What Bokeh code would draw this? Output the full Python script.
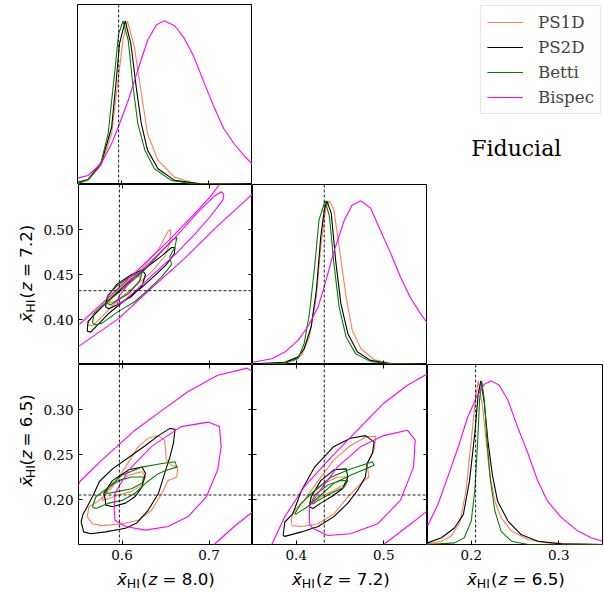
import math
from bokeh.plotting import figure
from bokeh.models import (Range1d, LinearAxis, FixedTicker, NumeralTickFormatter,
                          Span, Label, Legend, LegendItem, Spacer)
from bokeh.layouts import row, column
from bokeh.embed import file_html
from bokeh.resources import INLINE

# ------------------------------------------------------------------ data
SERIES = ["PS1D", "PS2D", "Betti", "Bispec"]
ZVALS = ["8.0", "7.2", "6.5"]
RANGES = [(0.55, 0.75), (0.35, 0.55), (0.15, 0.35)]
XTICKS = [[0.6, 0.7], [0.4, 0.5], [0.2, 0.3]]
YTICKS = [[0.6, 0.7], [0.40, 0.45, 0.50], [0.20, 0.25, 0.30]]
FIDUCIAL = [0.597, 0.432, 0.205]

# 1D marginals (x, normalised density)
D80_PS1D = [(0.550, 0.008), (0.562, 0.025), (0.577, 0.117), (0.589, 0.31), (0.596, 0.62), (0.602, 0.885),
            (0.607, 1.0), (0.615, 0.84), (0.623, 0.556), (0.630, 0.31), (0.642, 0.147), (0.661, 0.045),
            (0.683, 0.008), (0.750, 0.0)]
D80_PS2D = [(0.550, 0.014), (0.562, 0.03), (0.577, 0.127), (0.589, 0.35), (0.594, 0.62), (0.598, 0.86),
            (0.6045, 1.0), (0.611, 0.86), (0.617, 0.60), (0.623, 0.37), (0.630, 0.21), (0.642, 0.096),
            (0.661, 0.025), (0.691, 0.004), (0.750, 0.0)]
D80_BETTI = [(0.550, 0.004), (0.562, 0.03), (0.577, 0.137), (0.585, 0.31), (0.592, 0.66), (0.597, 0.92),
             (0.602, 1.0), (0.608, 0.88), (0.613, 0.62), (0.619, 0.37), (0.627, 0.21), (0.638, 0.096),
             (0.657, 0.025), (0.683, 0.004), (0.750, 0.0)]
D80_BISPEC = [(0.550, 0.039), (0.562, 0.055), (0.577, 0.127), (0.589, 0.25), (0.597, 0.356), (0.608, 0.515),
              (0.619, 0.70), (0.630, 0.88), (0.640, 0.975), (0.649, 1.0), (0.661, 0.97), (0.672, 0.894),
              (0.683, 0.78), (0.695, 0.618), (0.706, 0.474), (0.717, 0.342), (0.729, 0.249), (0.740, 0.178),
              (0.750, 0.123)]

D72_PS1D = [(0.350, 0.0), (0.387, 0.008), (0.406, 0.055), (0.415, 0.168), (0.423, 0.413), (0.428, 0.72),
            (0.434, 0.965), (0.438, 1.0), (0.443, 0.945), (0.449, 0.72), (0.457, 0.413), (0.464, 0.209),
            (0.474, 0.096), (0.489, 0.029), (0.511, 0.004), (0.550, 0.0)]
D72_PS2D = [(0.350, 0.004), (0.387, 0.014), (0.402, 0.045), (0.409, 0.096), (0.417, 0.229), (0.423, 0.454),
            (0.428, 0.78), (0.432, 0.945), (0.435, 1.0), (0.440, 0.925), (0.445, 0.638), (0.451, 0.372),
            (0.459, 0.188), (0.470, 0.076), (0.485, 0.025), (0.508, 0.004), (0.550, 0.0)]
D72_BETTI = [(0.350, 0.0), (0.387, 0.008), (0.402, 0.035), (0.409, 0.127), (0.415, 0.31), (0.421, 0.597),
             (0.426, 0.883), (0.433, 1.0), (0.438, 0.904), (0.443, 0.618), (0.449, 0.352), (0.457, 0.168),
             (0.468, 0.065), (0.485, 0.018), (0.508, 0.004), (0.550, 0.0)]
D72_BISPEC = [(0.350, 0.014), (0.372, 0.035), (0.387, 0.076), (0.402, 0.147), (0.413, 0.229), (0.425, 0.352),
              (0.432, 0.474), (0.443, 0.69), (0.455, 0.883), (0.464, 0.975), (0.474, 1.0), (0.485, 0.955),
              (0.496, 0.822), (0.508, 0.679), (0.519, 0.536), (0.530, 0.413), (0.542, 0.311), (0.550, 0.25)]

D65_PS1D = [(0.150, 0.004), (0.166, 0.02), (0.177, 0.051), (0.187, 0.133), (0.194, 0.328), (0.200, 0.635),
            (0.205, 0.90), (0.208, 1.0), (0.213, 0.84), (0.217, 0.635), (0.221, 0.43), (0.227, 0.266),
            (0.234, 0.164), (0.246, 0.082), (0.265, 0.031), (0.287, 0.01), (0.314, 0.004), (0.350, 0.0)]
D65_PS2D = [(0.150, 0.01), (0.166, 0.041), (0.181, 0.102), (0.191, 0.184), (0.198, 0.389), (0.204, 0.676),
            (0.208, 0.922), (0.211, 1.0), (0.215, 0.86), (0.219, 0.635), (0.224, 0.43), (0.230, 0.266),
            (0.242, 0.143), (0.257, 0.061), (0.276, 0.02), (0.303, 0.004), (0.350, 0.0)]
D65_BETTI = [(0.150, 0.0), (0.181, 0.01), (0.192, 0.041), (0.200, 0.143), (0.204, 0.328), (0.207, 0.594),
             (0.2095, 0.881), (0.212, 1.0), (0.215, 0.881), (0.218, 0.635), (0.222, 0.389), (0.227, 0.205),
             (0.234, 0.082), (0.246, 0.02), (0.265, 0.0), (0.350, 0.0)]
D65_BISPEC = [(0.150, 0.113), (0.162, 0.246), (0.173, 0.41), (0.185, 0.594), (0.196, 0.779), (0.206, 0.90),
              (0.215, 0.98), (0.223, 1.0), (0.232, 0.973), (0.242, 0.881), (0.253, 0.717), (0.265, 0.553),
              (0.276, 0.389), (0.287, 0.266), (0.303, 0.164), (0.322, 0.082), (0.337, 0.041), (0.350, 0.02)]

# 2D contours (x, y) -- 68% and 95% levels
C10_PS1D_95 = [(0.560, 0.394), (0.566, 0.405), (0.581, 0.420), (0.600, 0.437), (0.623, 0.457), (0.642, 0.478),
               (0.653, 0.498), (0.656, 0.500), (0.655, 0.485), (0.649, 0.470), (0.634, 0.453), (0.615, 0.437),
               (0.596, 0.422), (0.577, 0.403), (0.566, 0.393)]
C10_PS1D_68 = [(0.585, 0.418), (0.589, 0.427), (0.602, 0.440), (0.615, 0.448), (0.621, 0.448), (0.619, 0.440),
               (0.606, 0.429), (0.592, 0.420)]
C10_PS2D_95 = [(0.560, 0.387), (0.561, 0.398), (0.574, 0.411), (0.589, 0.425), (0.608, 0.442), (0.627, 0.457),
               (0.646, 0.471), (0.657, 0.480), (0.661, 0.480), (0.660, 0.473), (0.651, 0.461), (0.638, 0.449),
               (0.623, 0.436), (0.604, 0.422), (0.585, 0.407), (0.574, 0.396), (0.564, 0.386)]
C10_PS2D_68 = [(0.581, 0.414), (0.583, 0.425), (0.594, 0.439), (0.611, 0.450), (0.623, 0.455), (0.627, 0.450),
               (0.623, 0.437), (0.610, 0.425), (0.594, 0.416), (0.585, 0.412)]
C10_BETTI_95 = [(0.566, 0.396), (0.568, 0.407), (0.581, 0.418), (0.600, 0.433), (0.623, 0.452), (0.646, 0.476),
                (0.659, 0.489), (0.663, 0.491), (0.661, 0.481), (0.655, 0.470), (0.657, 0.461), (0.646, 0.448),
                (0.630, 0.433), (0.615, 0.420), (0.596, 0.409), (0.577, 0.396), (0.570, 0.394)]
C10_BETTI_68 = [(0.583, 0.418), (0.584, 0.427), (0.594, 0.437), (0.610, 0.448), (0.623, 0.453), (0.621, 0.444),
                (0.608, 0.429), (0.592, 0.420), (0.587, 0.416)]
C10_BISPEC_68 = [(0.594, 0.415), (0.596, 0.425), (0.611, 0.444), (0.634, 0.465), (0.661, 0.491), (0.687, 0.519),
                 (0.706, 0.537), (0.714, 0.542), (0.717, 0.539), (0.716, 0.533), (0.702, 0.515), (0.683, 0.494),
                 (0.661, 0.472), (0.638, 0.452), (0.619, 0.435), (0.604, 0.422)]
C10_BISPEC_95 = [(0.5515, 0.395), (0.577, 0.418), (0.615, 0.452), (0.653, 0.487), (0.683, 0.517), (0.702, 0.537),
                 (0.712, 0.550), (0.729, 0.571), (0.767, 0.571), (0.767, 0.545), (0.7496, 0.539), (0.710, 0.504),
                 (0.672, 0.468), (0.634, 0.435), (0.596, 0.401), (0.5515, 0.371), (0.520, 0.347), (0.520, 0.387)]

C20_PS1D_95 = [(0.560, 0.181), (0.562, 0.192), (0.574, 0.199), (0.589, 0.214), (0.604, 0.236), (0.619, 0.259),
               (0.630, 0.268), (0.642, 0.271), (0.649, 0.266), (0.651, 0.244), (0.657, 0.238), (0.664, 0.236),
               (0.663, 0.225), (0.653, 0.221), (0.646, 0.207), (0.634, 0.188), (0.619, 0.177), (0.600, 0.173),
               (0.577, 0.171), (0.566, 0.173)]
C20_PS1D_68 = [(0.577, 0.199), (0.581, 0.209), (0.592, 0.218), (0.608, 0.227), (0.623, 0.231), (0.627, 0.225),
               (0.623, 0.216), (0.611, 0.209), (0.596, 0.205), (0.585, 0.201)]
C20_PS2D_95 = [(0.553, 0.175), (0.556, 0.164), (0.564, 0.162), (0.581, 0.164), (0.604, 0.168), (0.617, 0.174),
               (0.630, 0.188), (0.642, 0.207), (0.649, 0.229), (0.655, 0.247), (0.659, 0.262), (0.661, 0.278),
               (0.655, 0.279), (0.642, 0.271), (0.627, 0.260), (0.608, 0.247), (0.589, 0.234), (0.574, 0.220),
               (0.568, 0.207), (0.560, 0.192), (0.555, 0.183)]
C20_PS2D_68 = [(0.581, 0.199), (0.579, 0.207), (0.589, 0.221), (0.608, 0.233), (0.623, 0.236), (0.627, 0.229),
               (0.623, 0.214), (0.615, 0.203), (0.604, 0.196), (0.589, 0.192), (0.581, 0.194)]
C20_BETTI_95 = [(0.566, 0.192), (0.570, 0.203), (0.585, 0.214), (0.600, 0.227), (0.623, 0.236), (0.646, 0.240),
                (0.661, 0.242), (0.663, 0.236), (0.653, 0.233), (0.642, 0.229), (0.627, 0.218), (0.615, 0.207),
                (0.600, 0.199), (0.585, 0.196), (0.570, 0.190)]
C20_BETTI_68 = [(0.581, 0.207), (0.585, 0.214), (0.596, 0.221), (0.611, 0.225), (0.625, 0.225), (0.623, 0.218),
                (0.611, 0.212), (0.596, 0.209), (0.585, 0.207)]
C20_BISPEC_68 = [(0.591, 0.188), (0.592, 0.207), (0.608, 0.233), (0.634, 0.259), (0.668, 0.281), (0.699, 0.286),
                 (0.712, 0.281), (0.714, 0.259), (0.710, 0.233), (0.697, 0.203), (0.676, 0.181), (0.653, 0.170),
                 (0.627, 0.166), (0.604, 0.170), (0.592, 0.177)]
C20_BISPEC_95 = [(0.5515, 0.220), (0.577, 0.244), (0.615, 0.277), (0.646, 0.299), (0.676, 0.320), (0.710, 0.338),
                 (0.744, 0.346), (0.759, 0.336), (0.778, 0.281), (0.767, 0.207), (0.7496, 0.186), (0.729, 0.170),
                 (0.706, 0.150), (0.676, 0.125), (0.577, 0.118), (0.532, 0.170)]

C21_PS1D_95 = [(0.394, 0.173), (0.396, 0.186), (0.409, 0.199), (0.425, 0.221), (0.443, 0.244), (0.462, 0.260),
               (0.481, 0.270), (0.491, 0.270), (0.489, 0.255), (0.481, 0.240), (0.483, 0.225), (0.474, 0.218),
               (0.459, 0.203), (0.443, 0.184), (0.425, 0.173), (0.406, 0.170), (0.396, 0.171)]
C21_PS1D_68 = [(0.415, 0.196), (0.419, 0.207), (0.432, 0.218), (0.447, 0.225), (0.459, 0.225), (0.457, 0.218),
               (0.443, 0.210), (0.428, 0.203), (0.419, 0.197)]
C21_PS2D_95 = [(0.385, 0.160), (0.387, 0.175), (0.396, 0.184), (0.406, 0.210), (0.421, 0.236), (0.443, 0.259),
               (0.462, 0.268), (0.479, 0.271), (0.489, 0.264), (0.487, 0.251), (0.481, 0.240), (0.479, 0.225),
               (0.470, 0.210), (0.459, 0.196), (0.443, 0.181), (0.425, 0.170), (0.406, 0.164), (0.387, 0.159)]
C21_PS2D_68 = [(0.415, 0.192), (0.417, 0.203), (0.428, 0.221), (0.443, 0.233), (0.457, 0.234), (0.459, 0.225),
               (0.453, 0.212), (0.440, 0.203), (0.428, 0.196), (0.419, 0.190)]
C21_BETTI_95 = [(0.398, 0.184), (0.406, 0.196), (0.421, 0.210), (0.440, 0.225), (0.462, 0.234), (0.487, 0.242),
                (0.489, 0.238), (0.477, 0.233), (0.462, 0.227), (0.443, 0.218), (0.428, 0.205), (0.413, 0.192),
                (0.400, 0.184)]
C21_BETTI_68 = [(0.417, 0.196), (0.421, 0.205), (0.436, 0.216), (0.451, 0.221), (0.459, 0.221), (0.455, 0.214),
                (0.440, 0.207), (0.425, 0.199), (0.419, 0.195)]
C21_BISPEC_68 = [(0.415, 0.173), (0.415, 0.192), (0.425, 0.207), (0.447, 0.236), (0.474, 0.259), (0.500, 0.271),
                 (0.527, 0.277), (0.536, 0.266), (0.534, 0.236), (0.519, 0.199), (0.493, 0.173), (0.462, 0.162),
                 (0.436, 0.160), (0.419, 0.168)]
C21_BISPEC_95 = [(0.372, 0.150), (0.387, 0.181), (0.409, 0.214), (0.440, 0.247), (0.470, 0.277), (0.500, 0.307),
                 (0.527, 0.327), (0.547, 0.338), (0.560, 0.344), (0.575, 0.330), (0.575, 0.200), (0.548, 0.186),
                 (0.527, 0.170), (0.500, 0.150), (0.462, 0.115), (0.350, 0.115)]

MARGINALS = {
    0: [D80_PS1D, D80_PS2D, D80_BETTI, D80_BISPEC],
    1: [D72_PS1D, D72_PS2D, D72_BETTI, D72_BISPEC],
    2: [D65_PS1D, D65_PS2D, D65_BETTI, D65_BISPEC],
}
CONTOURS = {
    (1, 0): [(C10_PS1D_68, C10_PS1D_95), (C10_PS2D_68, C10_PS2D_95),
             (C10_BETTI_68, C10_BETTI_95), (C10_BISPEC_68, C10_BISPEC_95)],
    (2, 0): [(C20_PS1D_68, C20_PS1D_95), (C20_PS2D_68, C20_PS2D_95),
             (C20_BETTI_68, C20_BETTI_95), (C20_BISPEC_68, C20_BISPEC_95)],
    (2, 1): [(C21_PS1D_68, C21_PS1D_95), (C21_PS2D_68, C21_PS2D_95),
             (C21_BETTI_68, C21_BETTI_95), (C21_BISPEC_68, C21_BISPEC_95)],
}

# ------------------------------------------------------------------ style / layout
COLORS = ["coral", "black", "green", "magenta"]
LW = 1.1
W, H = 175, 180            # frame size of each panel
WY, LB = 40, 37            # y-label strip width, tick-label border width
T, R = 4, 1                # top / right borders
BB, HX = 23, 24            # bottom tick-label border, x-label strip height
SERIF = "DejaVu Serif"
SANS = "DejaVu Sans"
TICK_FS = "13.5px"
LAB_PX, SUB_PX = 16.7, 12.5
MID = 0.346                # middle of text box above baseline, in em


def add_axis(p, side, ticks, fmt, labels):
    ax = LinearAxis(ticker=FixedTicker(ticks=ticks), formatter=NumeralTickFormatter(format=fmt))
    ax.axis_line_color = None
    ax.major_tick_in = 4
    ax.major_tick_out = 0
    ax.major_tick_line_color = "black"
    ax.major_tick_line_width = 1
    ax.minor_tick_line_color = None
    if labels:
        ax.major_label_text_font = SERIF
        ax.major_label_text_font_size = TICK_FS
        ax.major_label_text_color = "black"
        ax.major_label_standoff = 5
    else:
        ax.major_label_text_font_size = "0px"
        ax.major_label_text_color = None
        ax.major_label_standoff = 0
    p.add_layout(ax, side)


def strip(width, height):
    f = figure(width=width, height=height, x_range=Range1d(0, width), y_range=Range1d(0, height),
               x_axis_location=None, y_axis_location=None, toolbar_location=None, tools="",
               output_backend="svg", min_border=0)
    f.grid.visible = False
    f.outline_line_color = None
    f.background_fill_color = "white"
    f.border_fill_color = "white"
    return f


# (text, advance from start, baseline shift, font px, style)
LABEL_PIECES = [("x\u0304", 0.0, 0.0, LAB_PX, "italic"),
                ("HI", 9.8, -3.5, SUB_PX, "normal"),
                ("(", 24.0, 0.0, LAB_PX, "normal"),
                ("z", 31.5, 0.0, LAB_PX, "italic"),
                ("= {})", 45.5, 0.0, LAB_PX, "normal")]
LABEL_LEN = 96.0


def x_label_strip(width, centre, zval):
    f = strip(width, HX)
    base = 7.0
    for txt, dx, dy, size, style in LABEL_PIECES:
        f.add_layout(Label(x=centre - LABEL_LEN / 2 + dx, y=base + dy + MID * size,
                           text=txt.format(zval), text_font=SANS, text_font_size=f"{size}px",
                           text_font_style=style, text_align="left", text_baseline="middle",
                           text_color="black"))
    return f


def y_label_strip(height, centre, zval):
    f = strip(WY, height)
    base = 31.0
    for txt, dx, dy, size, style in LABEL_PIECES:
        f.add_layout(Label(x=base - dy - MID * size, y=centre - LABEL_LEN / 2 + dx, angle=math.pi / 2,
                           text=txt.format(zval), text_font=SANS, text_font_size=f"{size}px",
                           text_font_style=style, text_align="left", text_baseline="middle",
                           text_color="black"))
    return f


def make_panel(r, c):
    width = W + (LB if c == 0 else 0) + (R if c == 2 else 0)
    height = H + (T if r == 0 else 0) + (BB if r == 2 else 0)
    xr = Range1d(*RANGES[c])
    yr = Range1d(0, 1.1) if r == c else Range1d(*RANGES[r])
    p = figure(width=width, height=height, x_range=xr, y_range=yr,
               x_axis_location=None, y_axis_location=None,
               toolbar_location=None, tools="", output_backend="svg",
               min_border=0,
               min_border_left=(LB if c == 0 else 0), min_border_right=(R if c == 2 else 0),
               min_border_top=(T if r == 0 else 0), min_border_bottom=(BB if r == 2 else 0))
    p.grid.visible = False
    p.outline_line_color = "black"
    p.outline_line_width = 1
    p.background_fill_color = "white"
    p.border_fill_color = "white"

    if r == c:
        for data, col in zip(MARGINALS[c], COLORS):
            p.line([d[0] for d in data], [d[1] for d in data], line_color=col, line_width=LW)
        add_axis(p, "below", XTICKS[c], "0.0", r == 2)
    else:
        for (c68, c95), col in zip(CONTOURS[(r, c)], COLORS):
            for cont in (c95, c68):
                xs = [q[0] for q in cont] + [cont[0][0]]
                ys = [q[1] for q in cont] + [cont[0][1]]
                p.line(xs, ys, line_color=col, line_width=LW)
        add_axis(p, "left", YTICKS[r], "0.00", c == 0)
        add_axis(p, "right", YTICKS[r], "0.00", False)
        add_axis(p, "below", XTICKS[c], "0.0", r == 2)
        add_axis(p, "above", XTICKS[c], "0.0", False)
        p.add_layout(Span(location=FIDUCIAL[r], dimension="width", line_color="black",
                          line_width=0.9, line_dash="3 2"))
    p.add_layout(Span(location=FIDUCIAL[c], dimension="height", line_color="black",
                      line_width=0.9, line_dash="3 2"))
    return p


panels = {(r, c): make_panel(r, c) for r in range(3) for c in range(3) if c <= r}

# legend / title panel
dummy = figure(width=W + R, height=H + T, x_range=Range1d(0, 1), y_range=Range1d(0, 1),
               x_axis_location=None, y_axis_location=None, toolbar_location=None, tools="",
               output_backend="svg", min_border=0, min_border_top=T, min_border_right=R)
dummy.grid.visible = False
dummy.outline_line_color = None
rends = [dummy.line([-2, -1], [-2, -1], line_color=col, line_width=1) for col in COLORS]
legend = Legend(items=[LegendItem(label=s, renderers=[rr]) for s, rr in zip(SERIES, rends)],
                location="top_right", margin=1, padding=6, spacing=5,
                glyph_width=36, glyph_height=20, label_height=20, label_standoff=15,
                label_text_font=SERIF, label_text_font_size=f"{LAB_PX}px",
                border_line_color="#cccccc", border_line_width=1, background_fill_alpha=1.0)
dummy.add_layout(legend)
dummy.add_layout(Label(x=0.25, y=0.202, text="Fiducial", text_font=SERIF, text_font_size="22px",
                       text_align="left", text_baseline="middle", text_color="black"))

layout = column(
    row(Spacer(width=WY, height=H + T), panels[(0, 0)], Spacer(width=W, height=H + T), dummy),
    row(y_label_strip(H, H / 2, ZVALS[1]), panels[(1, 0)], panels[(1, 1)], Spacer(width=W + R, height=H)),
    row(y_label_strip(H + BB, BB + H / 2, ZVALS[2]), panels[(2, 0)], panels[(2, 1)], panels[(2, 2)]),
    row(Spacer(width=WY, height=HX), x_label_strip(LB + W, LB + W / 2, ZVALS[0]),
        x_label_strip(W, W / 2, ZVALS[1]), x_label_strip(W + R, W / 2, ZVALS[2])),
)

open("out.html", "w").write(file_html(layout, INLINE, title="corner"))
